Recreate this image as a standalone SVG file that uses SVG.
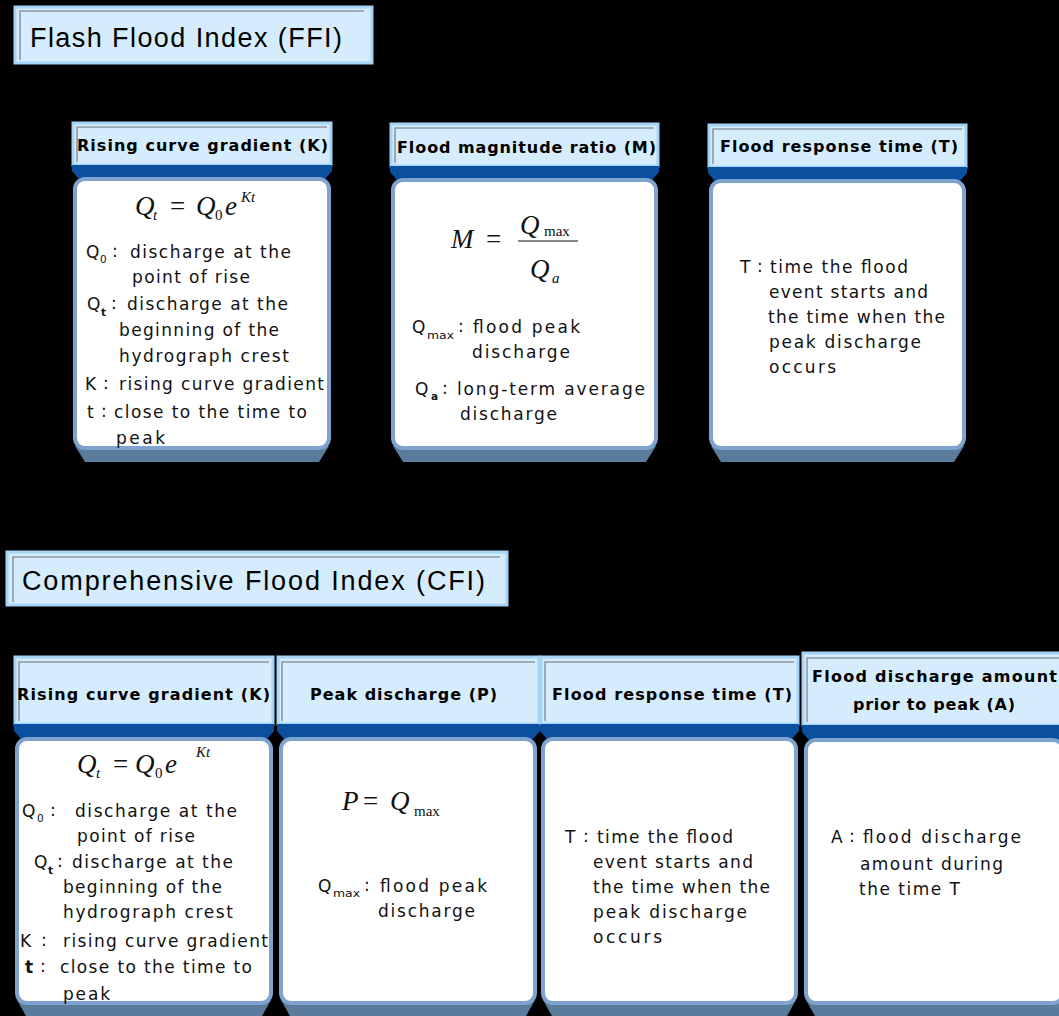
<svg xmlns="http://www.w3.org/2000/svg" width="1059" height="1016" viewBox="0 0 1059 1016">
<style>
.hdr{fill:#d5ecfc;stroke:#a6d4f6;stroke-width:3}
.hin{fill:none;stroke:#8d98a2;stroke-width:1.6}
.band{fill:#0b509e}
.body{fill:#fff;stroke:#7ea3cf;stroke-width:4}
.shd{fill:#5b7b9d}
.title{font-family:"Liberation Sans",Arial,sans-serif;font-size:27px;fill:#000}
.ht{font-family:"DejaVu Sans",Verdana,sans-serif;font-weight:bold;font-size:16px;fill:#000}
.bt{font-family:"DejaVu Sans",Verdana,sans-serif;font-size:17px;fill:#111}
.sub{font-family:"DejaVu Sans",Verdana,sans-serif;font-size:10.5px;fill:#111}
.eq{font-family:"Liberation Serif","Times New Roman",serif;font-style:italic;font-size:27px;fill:#111}
.eqr{font-family:"Liberation Serif","Times New Roman",serif;font-size:27px;fill:#111}
.eqs{font-family:"Liberation Serif","Times New Roman",serif;font-size:15px;fill:#111}
</style>
<rect x="0" y="0" width="1059" height="1016" fill="#000"/>

<g id="title-ffi">
<rect class="hdr" x="15" y="7" width="357" height="56"/>
<polyline class="hin" points="20,60 20,11 364,11"/>
<text class="title" x="30" y="47" textLength="312" lengthAdjust="spacing">Flash Flood Index (FFI)</text>
</g>

<g id="ffi-k">
<rect class="hdr" x="73" y="123" width="258" height="42"/>
<polyline class="hin" points="77,162 77,127 327,127"/>
<text class="ht" x="77" y="151" textLength="251" lengthAdjust="spacing">Rising curve gradient (K)</text>
<polygon class="band" points="72,165 332,165 332,171 325,179 79,179 72,171"/>
<polygon class="shd" points="75,446 329,446 319,462 85,462"/>
<rect class="body" x="75" y="179" width="254" height="269" rx="10"/>
<text class="eq" x="135" y="215">Q</text><text class="eqs" x="153" y="220" font-style="italic">t</text>
<text class="eqr" x="170" y="215">=</text>
<text class="eq" x="196" y="215">Q</text><text class="eqs" x="215" y="220">0</text>
<text class="eq" x="225" y="215">e</text><text class="eqs" x="241" y="202" font-style="italic">Kt</text>
<text class="bt" x="86" y="258">Q</text><text class="sub" x="100" y="263">0</text><text class="bt" x="112" y="257">:</text>
<text class="bt" x="130" y="258" textLength="161" lengthAdjust="spacing">discharge at the</text>
<text class="bt" x="132" y="283" textLength="118" lengthAdjust="spacing">point of rise</text>
<text class="bt" x="87" y="310">Q</text><text class="sub" x="101" y="316" font-weight="bold">t</text><text class="bt" x="111" y="309">:</text>
<text class="bt" x="127" y="310" textLength="161" lengthAdjust="spacing">discharge at the</text>
<text class="bt" x="119" y="336" textLength="160" lengthAdjust="spacing">beginning of the</text>
<text class="bt" x="119" y="362" textLength="170" lengthAdjust="spacing">hydrograph crest</text>
<text class="bt" x="85" y="390">K</text><text class="bt" x="103" y="389">:</text>
<text class="bt" x="119" y="390" textLength="205" lengthAdjust="spacing">rising curve gradient</text>
<text class="bt" x="87" y="418">t</text><text class="bt" x="101" y="417">:</text>
<text class="bt" x="114" y="418" textLength="193" lengthAdjust="spacing">close to the time to</text>
<text class="bt" x="116" y="444" textLength="49" lengthAdjust="spacing">peak</text>
</g>

<g id="ffi-m">
<rect class="hdr" x="391" y="124" width="267" height="42"/>
<polyline class="hin" points="395,163 395,128 654,128"/>
<text class="ht" x="397" y="153" textLength="259" lengthAdjust="spacing">Flood magnitude ratio (M)</text>
<polygon class="band" points="390,166 659,166 659,172 652,180 397,180 390,172"/>
<polygon class="shd" points="393,446 656,446 646,462 403,462"/>
<rect class="body" x="393" y="180" width="263" height="268" rx="10"/>
<text class="eq" x="451" y="248">M</text>
<text class="eqr" x="486" y="248">=</text>
<line x1="518" y1="241" x2="578" y2="241" stroke="#111" stroke-width="1.2"/>
<text class="eq" x="520" y="234">Q</text><text class="eqs" x="544" y="236">max</text>
<text class="eq" x="530" y="278">Q</text><text class="eqs" x="552" y="283" font-style="italic">a</text>
<text class="bt" x="412" y="333">Q</text><text class="sub" x="427" y="339" textLength="27" lengthAdjust="spacingAndGlyphs">max</text><text class="bt" x="458" y="332">:</text>
<text class="bt" x="473" y="333" textLength="107" lengthAdjust="spacing">flood peak</text>
<text class="bt" x="472" y="358" textLength="98" lengthAdjust="spacing">discharge</text>
<text class="bt" x="415" y="395">Q</text><text class="sub" x="431" y="400" font-weight="bold">a</text><text class="bt" x="442" y="394">:</text>
<text class="bt" x="457" y="395" textLength="188" lengthAdjust="spacing">long-term average</text>
<text class="bt" x="460" y="420" textLength="97" lengthAdjust="spacing">discharge</text>
</g>

<g id="ffi-t">
<rect class="hdr" x="709" y="125" width="257" height="42"/>
<polyline class="hin" points="713,164 713,129 962,129"/>
<text class="ht" x="720" y="152" textLength="238" lengthAdjust="spacing">Flood response time (T)</text>
<polygon class="band" points="708,167 967,167 967,173 960,181 715,181 708,173"/>
<polygon class="shd" points="711,446 964,446 954,462 721,462"/>
<rect class="body" x="711" y="181" width="253" height="267" rx="10"/>
<text class="bt" x="740" y="273">T</text><text class="bt" x="757" y="272">:</text>
<text class="bt" x="770" y="273" textLength="138" lengthAdjust="spacing">time the flood</text>
<text class="bt" x="769" y="298" textLength="159" lengthAdjust="spacing">event starts and</text>
<text class="bt" x="768" y="323" textLength="177" lengthAdjust="spacing">the time when the</text>
<text class="bt" x="769" y="348" textLength="152" lengthAdjust="spacing">peak discharge</text>
<text class="bt" x="769" y="373" textLength="67" lengthAdjust="spacing">occurs</text>
</g>

<g id="title-cfi">
<rect class="hdr" x="7" y="552" width="500" height="53"/>
<polyline class="hin" points="13,602 13,557 500,557"/>
<text class="title" x="22" y="590" textLength="463" lengthAdjust="spacing">Comprehensive Flood Index (CFI)</text>
</g>

<g id="cfi-k">
<rect class="hdr" x="15" y="657" width="258" height="67"/>
<polyline class="hin" points="19,721 19,662 269,662"/>
<text class="ht" x="17" y="700" textLength="253" lengthAdjust="spacing">Rising curve gradient (K)</text>
<polygon class="band" points="14,724 274,724 274,731 267,739 21,739 14,731"/>
<polygon class="shd" points="17,1000 271,1000 262,1016 26,1016"/>
<rect class="body" x="17" y="739" width="254" height="264" rx="10"/>
<text class="eq" x="77" y="773">Q</text><text class="eqs" x="96" y="778" font-style="italic">t</text>
<text class="eqr" x="113" y="773">=</text>
<text class="eq" x="135" y="773">Q</text><text class="eqs" x="155" y="778">0</text>
<text class="eq" x="165" y="773">e</text><text class="eqs" x="196" y="757" font-style="italic">Kt</text>
<text class="bt" x="22" y="817">Q</text><text class="sub" x="37" y="822">0</text><text class="bt" x="50" y="816">:</text>
<text class="bt" x="75" y="817" textLength="162" lengthAdjust="spacing">discharge at the</text>
<text class="bt" x="77" y="842" textLength="118" lengthAdjust="spacing">point of rise</text>
<text class="bt" x="34" y="868">Q</text><text class="sub" x="48" y="874" font-weight="bold">t</text><text class="bt" x="57" y="867">:</text>
<text class="bt" x="72" y="868" textLength="161" lengthAdjust="spacing">discharge at the</text>
<text class="bt" x="63" y="893" textLength="159" lengthAdjust="spacing">beginning of the</text>
<text class="bt" x="63" y="918" textLength="170" lengthAdjust="spacing">hydrograph crest</text>
<text class="bt" x="20" y="947">K</text><text class="bt" x="41" y="946">:</text>
<text class="bt" x="63" y="947" textLength="205" lengthAdjust="spacing">rising curve gradient</text>
<text class="bt" x="25" y="973" font-weight="bold">t</text><text class="bt" x="40" y="972">:</text>
<text class="bt" x="60" y="973" textLength="192" lengthAdjust="spacing">close to the time to</text>
<text class="bt" x="63" y="1000" textLength="47" lengthAdjust="spacing">peak</text>
</g>

<g id="cfi-p">
<rect class="hdr" x="278" y="657" width="261" height="67"/>
<polyline class="hin" points="282,721 282,662 535,662"/>
<text class="ht" x="310" y="700" textLength="187" lengthAdjust="spacing">Peak discharge (P)</text>
<polygon class="band" points="277,724 540,724 540,731 533,739 284,739 277,731"/>
<polygon class="shd" points="281,1000 535,1000 526,1016 290,1016"/>
<rect class="body" x="281" y="739" width="254" height="264" rx="10"/>
<text class="eq" x="342" y="810" font-size="25">P</text>
<text class="eqr" x="363" y="810" font-size="25">=</text>
<text class="eq" x="390" y="810" font-size="25">Q</text><text class="eqs" x="414" y="816">max</text>
<text class="bt" x="318" y="892">Q</text><text class="sub" x="333" y="897" textLength="27" lengthAdjust="spacingAndGlyphs">max</text><text class="bt" x="364" y="891">:</text>
<text class="bt" x="380" y="892" textLength="107" lengthAdjust="spacing">flood peak</text>
<text class="bt" x="378" y="917" textLength="97" lengthAdjust="spacing">discharge</text>
</g>

<g id="cfi-t">
<rect class="hdr" x="541" y="657" width="257" height="67"/>
<polyline class="hin" points="545,721 545,662 794,662"/>
<text class="ht" x="552" y="700" textLength="240" lengthAdjust="spacing">Flood response time (T)</text>
<polygon class="band" points="540,724 799,724 799,731 792,739 547,739 540,731"/>
<polygon class="shd" points="543,1000 796,1000 787,1016 552,1016"/>
<rect class="body" x="543" y="739" width="253" height="264" rx="10"/>
<text class="bt" x="565" y="843">T</text><text class="bt" x="583" y="842">:</text>
<text class="bt" x="597" y="843" textLength="136" lengthAdjust="spacing">time the flood</text>
<text class="bt" x="593" y="868" textLength="160" lengthAdjust="spacing">event starts and</text>
<text class="bt" x="593" y="893" textLength="177" lengthAdjust="spacing">the time when the</text>
<text class="bt" x="593" y="918" textLength="154" lengthAdjust="spacing">peak discharge</text>
<text class="bt" x="593" y="943" textLength="69" lengthAdjust="spacing">occurs</text>
</g>

<g id="cfi-a">
<rect class="hdr" x="803" y="653" width="258" height="72"/>
<polyline class="hin" points="807,722 807,658 1059,658"/>
<text class="ht" x="812" y="682" textLength="245" lengthAdjust="spacing">Flood discharge amount</text>
<text class="ht" x="853" y="710" textLength="162" lengthAdjust="spacing">prior to peak (A)</text>
<polygon class="band" points="802,725 1061,725 1061,740 809,740 802,732"/>
<polygon class="shd" points="806,1000 1061,1000 1061,1016 815,1016"/>
<rect class="body" x="806" y="740" width="257" height="263" rx="10"/>
<text class="bt" x="831" y="843">A</text><text class="bt" x="849" y="842">:</text>
<text class="bt" x="863" y="843" textLength="158" lengthAdjust="spacing">flood discharge</text>
<text class="bt" x="860" y="870" textLength="143" lengthAdjust="spacing">amount during</text>
<text class="bt" x="859" y="895" textLength="101" lengthAdjust="spacing">the time T</text>
</g>

<g id="connectors"></g>
</svg>
